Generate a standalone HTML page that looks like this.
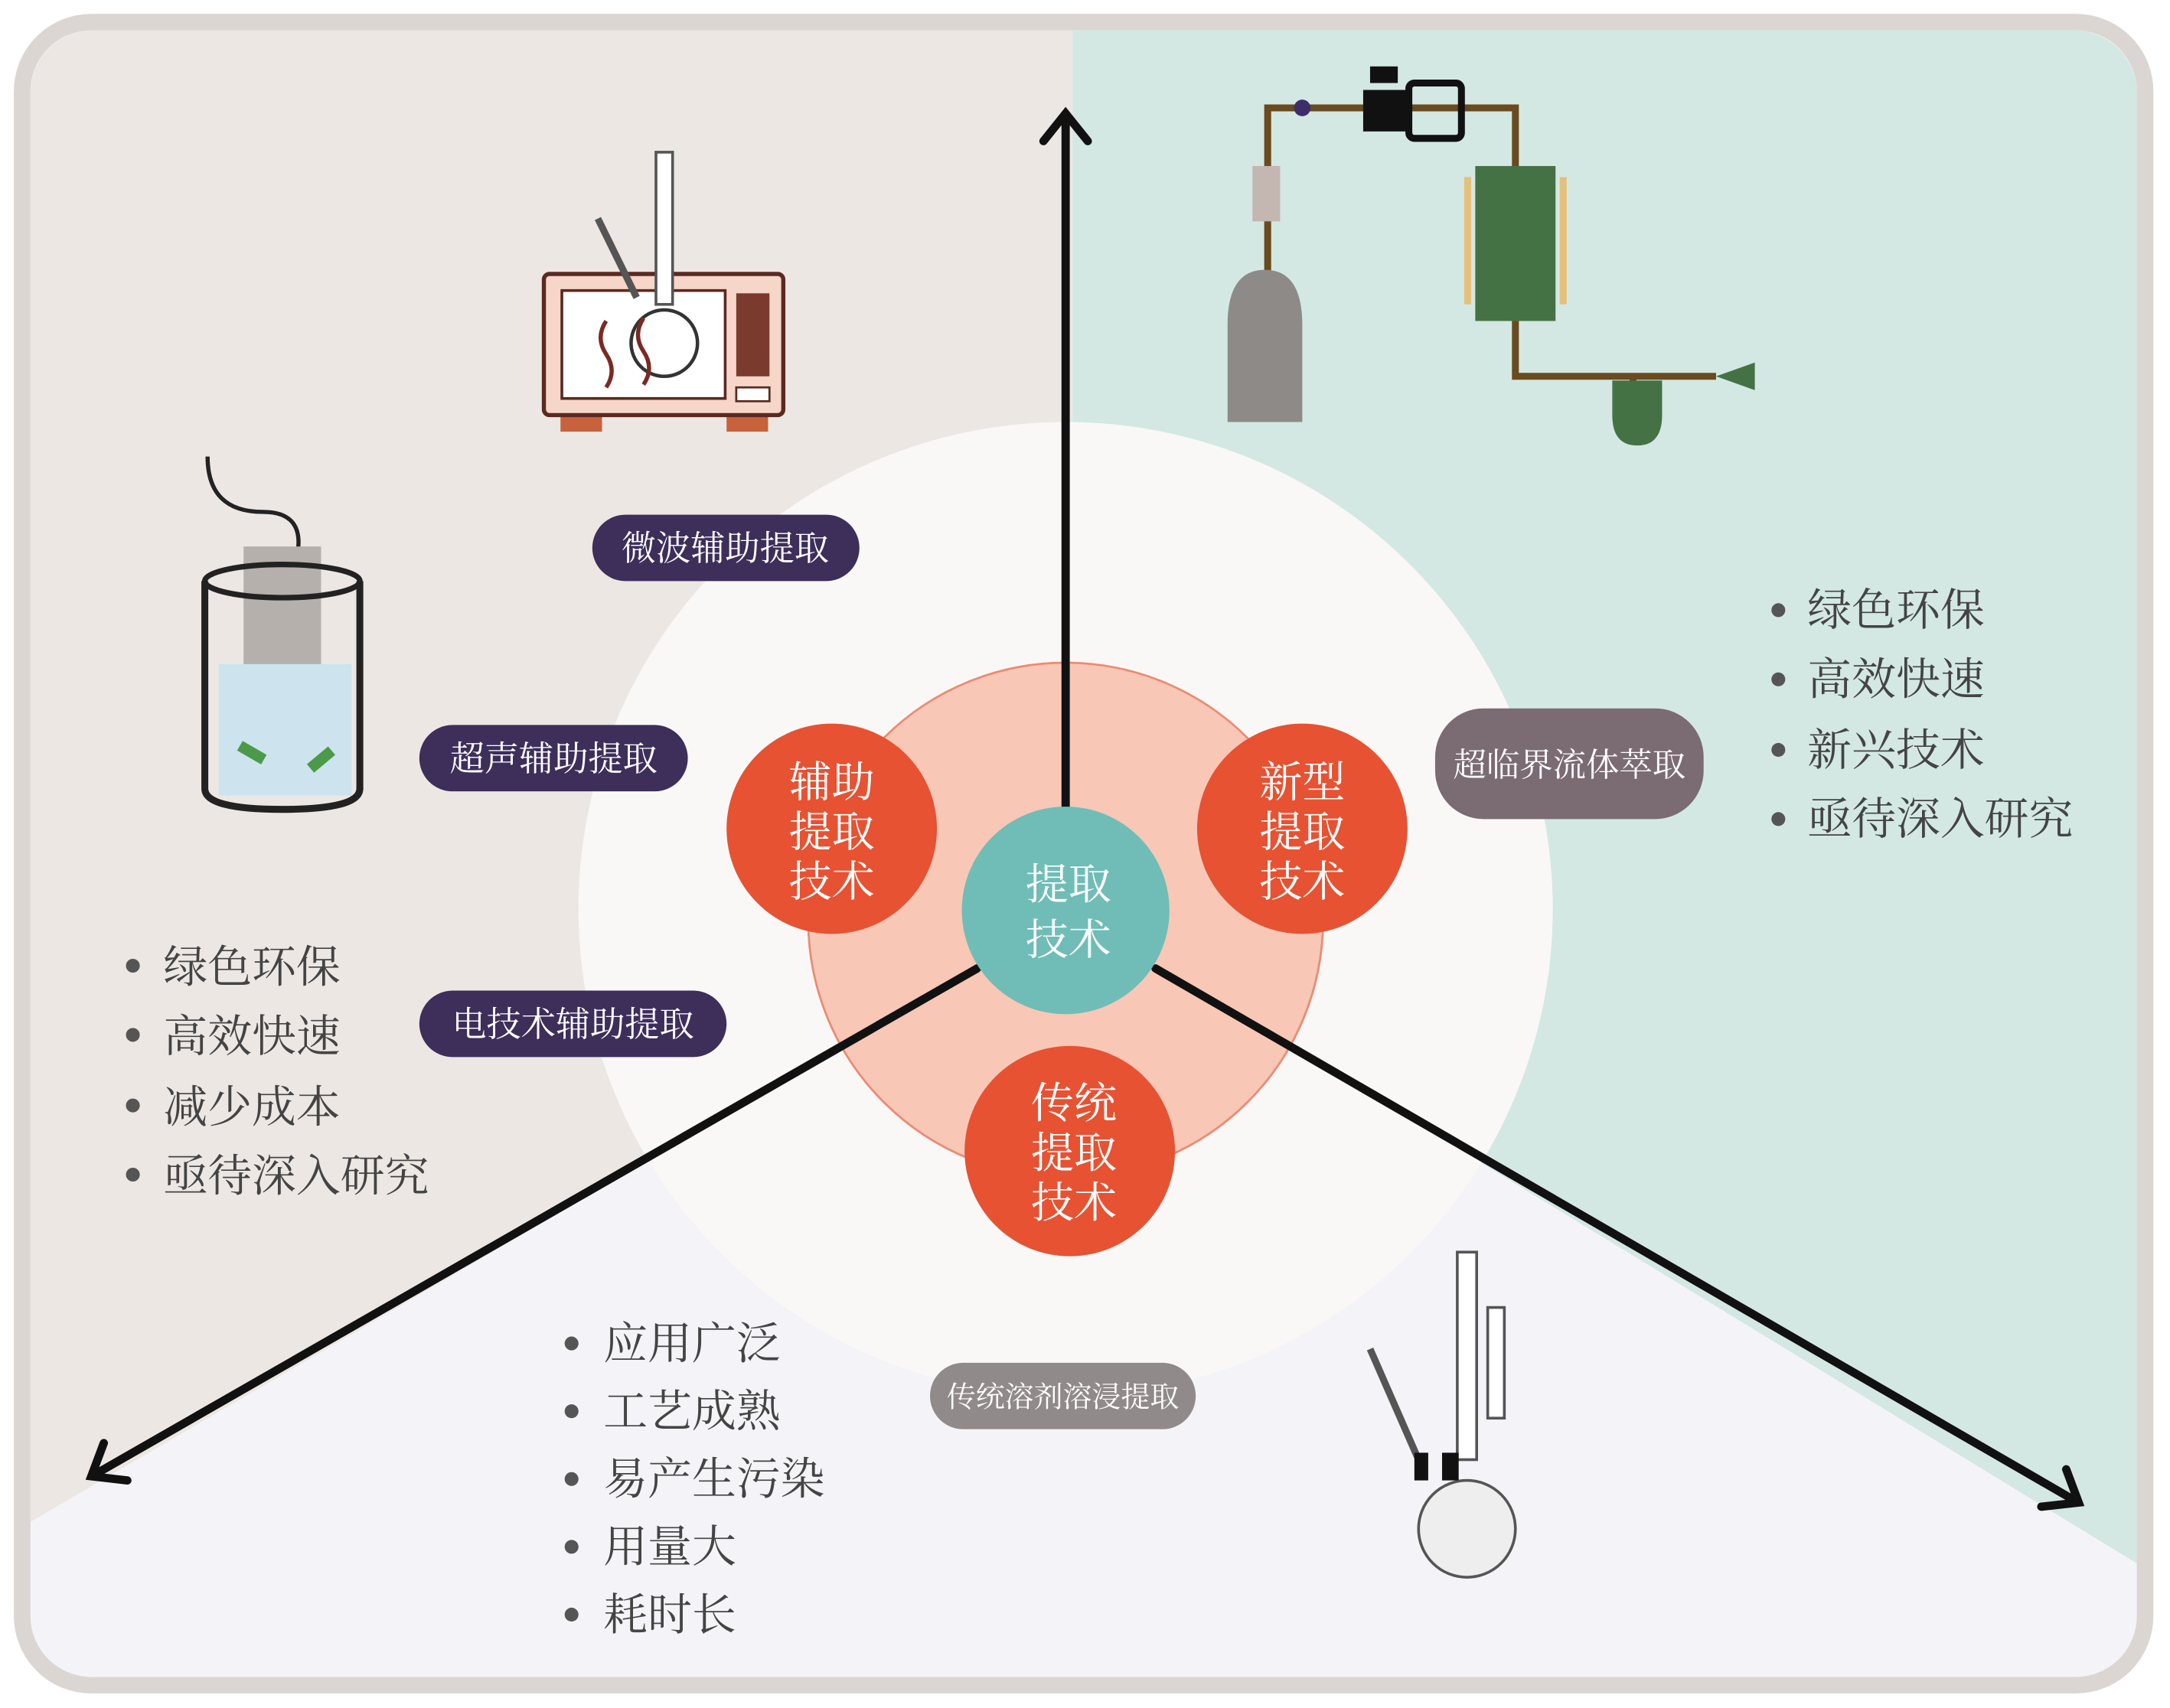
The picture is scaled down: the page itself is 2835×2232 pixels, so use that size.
<!DOCTYPE html>
<html><head><meta charset="utf-8">
<style>
html,body{margin:0;padding:0;background:#fff;}
svg{display:block;}
text{font-family:"Liberation Serif","Noto Serif CJK SC",serif;}
</style></head>
<body>
<svg width="2835" height="2232" viewBox="0 0 1568 1234.5" preserveAspectRatio="none" xmlns="http://www.w3.org/2000/svg">
<defs>
<clipPath id="fr"><rect x="22" y="22" width="1522" height="1190" rx="45"/></clipPath>
</defs>
<rect x="0" y="0" width="1568" height="1235" fill="#fff"/>
<rect x="16" y="16" width="1534" height="1202" rx="50" fill="#f4f4f8" stroke="#dcd6d3" stroke-width="12"/>
<g clip-path="url(#fr)">
<rect x="22" y="22" width="1522" height="1190" fill="#f4f4f8"/>
<polygon points="22,22 775,22 775,660 22,1100" fill="#ece7e3"/>
<polygon points="775,22 1544,22 1544,1130 775,660" fill="#d3e8e3"/>
</g>
<circle cx="770" cy="657" r="352" fill="#f9f8f6"/>
<circle cx="770" cy="665" r="186" fill="#f8c7b6" stroke="#ec8a72" stroke-width="1.5"/>
<g stroke="#111" stroke-width="6" fill="none" stroke-linecap="round">
<line x1="770" y1="600" x2="770" y2="84"/>
<polyline points="754,102 770,82 786,102"/>
<line x1="706" y1="700" x2="68" y2="1066"/>
<polyline points="75,1043 66,1067 92,1070"/>
<line x1="835" y1="700" x2="1500" y2="1085"/>
<polyline points="1475,1089 1502,1086 1493,1062"/>
</g>
<circle cx="601" cy="599" r="76" fill="#e65232"/>
<circle cx="941" cy="599" r="76" fill="#e65232"/>
<circle cx="773" cy="832" r="76" fill="#e65232"/>
<circle cx="770" cy="658" r="75" fill="#6fbdb6"/>
<g fill="#fff" font-size="31" text-anchor="middle">
<text x="601" y="576">辅助</text><text x="601" y="612">提取</text><text x="601" y="648">技术</text>
<text x="941" y="576">新型</text><text x="941" y="612">提取</text><text x="941" y="648">技术</text>
<text x="776" y="808">传统</text><text x="776" y="844">提取</text><text x="776" y="880">技术</text>
<text x="772" y="650">提取</text><text x="772" y="690">技术</text>
</g>
<rect x="428" y="372" width="193" height="48" rx="24" fill="#3d2e5a"/>
<text x="524" y="405" fill="#fff" font-size="25" text-anchor="middle">微波辅助提取</text>
<rect x="303" y="524" width="194" height="48" rx="24" fill="#3d2e5a"/>
<text x="400" y="557" fill="#fff" font-size="25" text-anchor="middle">超声辅助提取</text>
<rect x="303" y="716" width="222" height="48" rx="24" fill="#3d2e5a"/>
<text x="414" y="749" fill="#fff" font-size="25" text-anchor="middle">电技术辅助提取</text>
<rect x="1037" y="512" width="194" height="80" rx="35" fill="#7b6b73"/>
<text x="1134" y="561" fill="#fff" font-size="24" text-anchor="middle">超临界流体萃取</text>
<rect x="672" y="985" width="192" height="48" rx="24" fill="#918a8a"/>
<text x="768" y="1017" fill="#fff" font-size="21" text-anchor="middle">传统溶剂溶浸提取</text>
<g fill="#444" font-size="32">
<text x="118" y="710">绿色环保</text><text x="118" y="760">高效快速</text><text x="118" y="811">减少成本</text><text x="118" y="861">亟待深入研究</text>
<text x="1306" y="452">绿色环保</text><text x="1306" y="502">高效快速</text><text x="1306" y="553">新兴技术</text><text x="1306" y="603">亟待深入研究</text>
<text x="436" y="982">应用广泛</text><text x="436" y="1031">工艺成熟</text><text x="436" y="1080">易产生污染</text><text x="436" y="1129">用量大</text><text x="436" y="1178">耗时长</text>
</g>
<g fill="#555">
<circle cx="96" cy="698" r="5"/><circle cx="96" cy="748" r="5"/><circle cx="96" cy="799" r="5"/><circle cx="96" cy="849" r="5"/>
<circle cx="1285" cy="441" r="5"/><circle cx="1285" cy="491" r="5"/><circle cx="1285" cy="542" r="5"/><circle cx="1285" cy="592" r="5"/>
<circle cx="413" cy="971" r="5"/><circle cx="413" cy="1020" r="5"/><circle cx="413" cy="1069" r="5"/><circle cx="413" cy="1118" r="5"/><circle cx="413" cy="1167" r="5"/>
</g>
<rect x="405" y="298" width="30" height="14" fill="#c8623c"/><rect x="525" y="298" width="30" height="14" fill="#c8623c"/>
<rect x="393" y="198" width="173" height="102" rx="4" fill="#f6d6c8" stroke="#5a2a22" stroke-width="3"/>
<rect x="406" y="210" width="118" height="78" fill="#fff" stroke="#5a2a22" stroke-width="2"/>
<rect x="532" y="212" width="24" height="60" fill="#7a3a2e"/>
<rect x="532" y="280" width="24" height="10" fill="#fff" stroke="#5a2a22" stroke-width="1.5"/>
<circle cx="480" cy="248" r="24" fill="#fff" stroke="#333" stroke-width="2.5"/>
<rect x="474" y="110" width="12" height="110" fill="#fff" stroke="#555" stroke-width="2"/>
<line x1="432" y1="158" x2="460" y2="215" stroke="#555" stroke-width="5"/>
<path d="M438 232 q-8 12 0 24 q8 12 0 24" stroke="#7a2a22" stroke-width="3" fill="none"/>
<path d="M465 230 q-8 12 0 24 q8 12 0 24" stroke="#7a2a22" stroke-width="3" fill="none"/>
<path d="M150 330 q0 40 40 40 q30 0 25 30" stroke="#222" stroke-width="3" fill="none"/>
<rect x="176" y="395" width="56" height="110" fill="#b6b0ac"/>
<path d="M158 480 h96 v95 h-96z" fill="#cde3ee"/>
<path d="M148 420 v150 q0 15 56 15 q56 0 56 -15 v-150" stroke="#222" stroke-width="5" fill="none"/>
<ellipse cx="204" cy="420" rx="56" ry="12" fill="none" stroke="#222" stroke-width="4"/>
<rect x="172" y="540" width="20" height="8" fill="#4a9a4a" transform="rotate(30 182 544)"/>
<rect x="222" y="545" width="20" height="8" fill="#4a9a4a" transform="rotate(-40 232 549)"/>
<path d="M916 200 V78 H1095 V120 M1095 232 V272 H1240 M1180 272 V290" stroke="#6a4a1e" stroke-width="5" fill="none"/>
<path d="M887 305 V235 q0 -40 27 -40 q27 0 27 40 V305z" fill="#8e8a88"/>
<rect x="905" y="120" width="20" height="40" fill="#c4b6b0"/>
<rect x="1066" y="120" width="58" height="112" fill="#457245"/>
<rect x="1058" y="128" width="5" height="92" fill="#e6c078"/><rect x="1127" y="128" width="5" height="92" fill="#e6c078"/>
<path d="M1165 275 v25 q0 22 18 22 q18 0 18 -22 v-25z" fill="#457245"/>
<rect x="1018" y="60" width="38" height="40" rx="4" fill="none" stroke="#111" stroke-width="5"/>
<rect x="985" y="65" width="33" height="30" fill="#111"/><rect x="990" y="48" width="20" height="12" fill="#111"/>
<circle cx="941" cy="78" r="6" fill="#3d2e6a"/>
<polygon points="1240,272 1268,262 1268,282" fill="#457245"/>
<ellipse cx="1060" cy="1105" rx="35" ry="35" fill="#eeeeee" stroke="#555" stroke-width="2"/>
<rect x="1053" y="905" width="14" height="150" fill="#fff" stroke="#555" stroke-width="2"/>
<rect x="1075" y="945" width="12" height="80" fill="#fff" stroke="#555" stroke-width="2"/>
<line x1="990" y1="975" x2="1025" y2="1055" stroke="#555" stroke-width="5"/>
<rect x="1042" y="1050" width="12" height="20" fill="#111"/><rect x="1022" y="1050" width="10" height="20" fill="#111"/>
</svg>
</body></html>
